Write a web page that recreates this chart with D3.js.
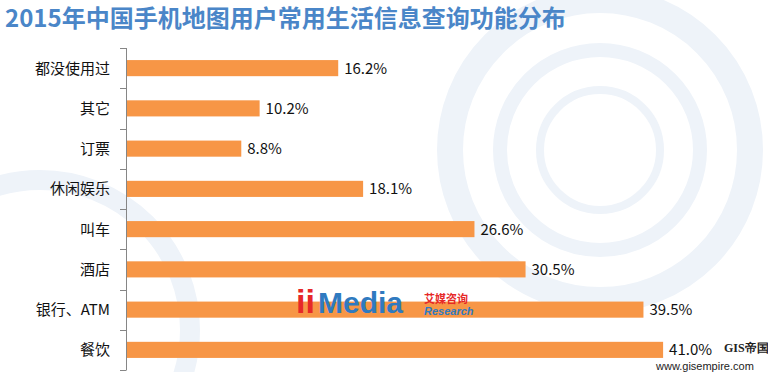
<!DOCTYPE html>
<html>
<head>
<meta charset="utf-8">
<script src="https://cdn.jsdelivr.net/npm/d3@7"></script>
<style>
  body { margin: 0; background: #fff; }
  svg { display: block; font-family: "Noto Sans CJK SC", "Microsoft YaHei", sans-serif; }
</style>
</head>
<body>
<div id="chart-area"></div>
<script>
const categories = ["都没使用过", "其它", "订票", "休闲娱乐", "叫车", "酒店", "银行、ATM", "餐饮"];
const values = [16.2, 10.2, 8.8, 18.1, 26.6, 30.5, 39.5, 41.0];
const title = "2015年中国手机地图用户常用生活信息查询功能分布";

const W = 768, H = 372;
const margin = { top: 48, right: 0, bottom: 2, left: 126 };

const svg = d3.select("#chart-area")
  .append("svg")
    .attr("width", W)
    .attr("height", H);

// faint background decoration
const deco = svg.append("g").attr("fill", "none").attr("stroke", "#eef3f9");
[[600, 150, 150, 26], [600, 150, 100, 14], [600, 150, 60, 8], [40, 330, 150, 20]].forEach(c => {
  deco.append("circle")
    .attr("cx", c[0]).attr("cy", c[1]).attr("r", c[2])
    .attr("stroke-width", c[3]);
});

svg.append("text")
  .attr("x", 5)
  .attr("y", 27)
  .style("font-size", "24px")
  .style("font-weight", "bold")
  .style("fill", "#4a86c8")
  .text(title);

const xScale = d3.scaleLinear()
  .domain([0, 1])
  .range([margin.left, margin.left + 13.1]);

const yScale = d3.scaleBand()
  .domain(categories)
  .range([margin.top, H - margin.bottom])
  .paddingInner(0.6)
  .paddingOuter(0.3);

// bars
svg.selectAll("rect.bar")
  .data(values)
  .enter()
  .append("rect")
    .attr("class", "bar")
    .attr("x", xScale(0))
    .attr("y", (d, i) => yScale(categories[i]))
    .attr("width", d => xScale(d) - xScale(0))
    .attr("height", yScale.bandwidth())
    .attr("fill", "#f79646");

// value labels
svg.selectAll("text.val")
  .data(values)
  .enter()
  .append("text")
    .attr("class", "val")
    .attr("x", d => xScale(d) + 6)
    .attr("y", (d, i) => yScale(categories[i]) + yScale.bandwidth() / 2)
    .attr("dy", "0.36em")
    .style("font-size", "15px")
    .style("fill", "#111")
    .text(d => d.toFixed(1) + "%");

// axis line and ticks between categories
const ticks = d3.range(categories.length + 1).map(i => margin.top + i * (H - margin.top - margin.bottom) / categories.length);
const axis = svg.append("g").attr("stroke", "#868686").attr("stroke-width", 1);
axis.append("line")
  .attr("x1", margin.left + 0.5).attr("x2", margin.left + 0.5)
  .attr("y1", ticks[0]).attr("y2", ticks[ticks.length - 1]);
axis.selectAll("line.tick")
  .data(ticks)
  .enter()
  .append("line")
    .attr("class", "tick")
    .attr("x1", margin.left - 6).attr("x2", margin.left + 0.5)
    .attr("y1", d => Math.round(d) + 0.5).attr("y2", d => Math.round(d) + 0.5);

// category labels
svg.selectAll("text.cat")
  .data(categories)
  .enter()
  .append("text")
    .attr("class", "cat")
    .attr("x", margin.left - 16)
    .attr("y", d => yScale(d) + yScale.bandwidth() / 2)
    .attr("dy", "0.36em")
    .attr("text-anchor", "end")
    .style("font-size", "15px")
    .style("fill", "#111")
    .text(d => d);

// watermarks
const logo = svg.append("g").attr("transform", "translate(296, 313)");
logo.append("text")
  .style("font-size", "34px").style("font-weight", "bold").style("fill", "#e62828")
  .style("font-family", "Arial, 'Liberation Sans', sans-serif")
  .text("ii");
logo.append("text")
  .attr("x", 22)
  .style("font-size", "30px").style("font-weight", "bold").style("fill", "#2f7ac0")
  .style("font-family", "Arial, 'Liberation Sans', sans-serif")
  .text("Media");
logo.append("text")
  .attr("x", 128).attr("y", -10)
  .style("font-size", "11px").style("font-weight", "bold").style("fill", "#e62828")
  .text("艾媒咨询");
logo.append("text")
  .attr("x", 128).attr("y", 2)
  .style("font-size", "11px").style("font-style", "italic").style("font-weight", "bold").style("fill", "#2f7ac0")
  .style("font-family", "Arial, 'Liberation Sans', sans-serif")
  .text("Research");

svg.append("text")
  .attr("x", 724).attr("y", 352)
  .style("font-size", "12px").style("font-weight", "bold").style("fill", "#222")
  .style("font-family", "'Liberation Serif', serif")
  .text("GIS帝国");
svg.append("text")
  .attr("x", 656).attr("y", 370)
  .style("font-size", "11px").style("fill", "#222")
  .style("font-family", "Arial, 'Liberation Sans', sans-serif")
  .text("www.gisempire.com");
</script>
</body>
</html>
